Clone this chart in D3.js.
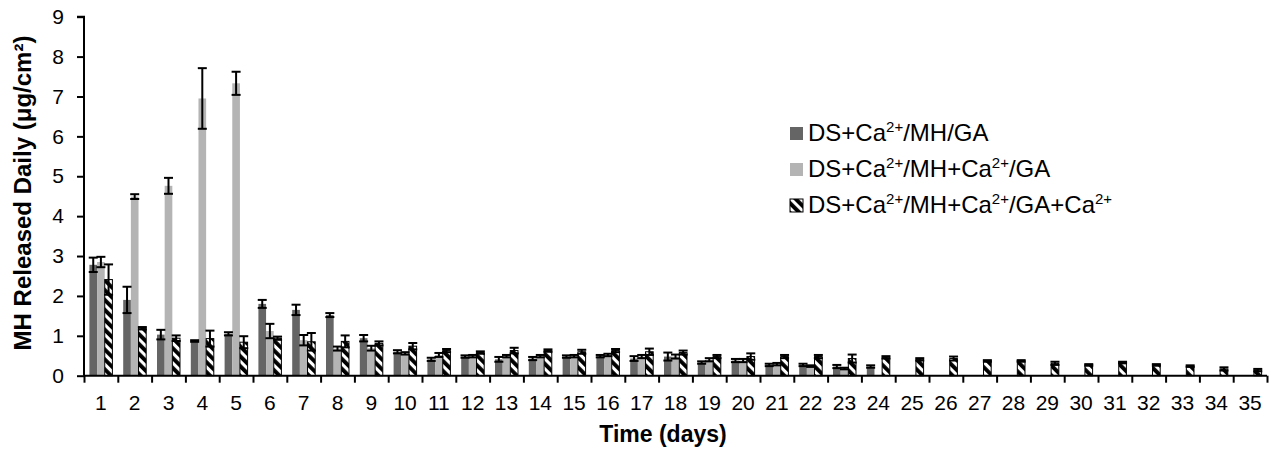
<!DOCTYPE html>
<html><head><meta charset="utf-8">
<script src="https://cdn.jsdelivr.net/npm/d3@7"></script>
<style>
html,body{margin:0;padding:0;background:#fff;}
svg{display:block;font-family:"Liberation Sans",Arial,sans-serif;}
</style></head>
<body>
<svg id="chart" width="1271" height="450"></svg>
<script>
const days = d3.range(1, 36).map(String);
const yTicks = [0,1,2,3,4,5,6,7,8,9];
const seriesNames = ["A","B","C"];

const valsA = [2.78,1.9,1.03,0.87,1.05,1.8,1.65,1.52,0.94,0.6,0.41,0.48,0.41,0.43,0.48,0.49,0.43,0.48,0.33,0.38,0.27,0.27,0.23,0.23,null,null,null,null,null,null,null,null,null,null,null];
const errA  = [0.18,0.33,0.12,0.02,0.04,0.1,0.13,0.05,0.08,0.04,0.04,0.03,0.06,0.04,0.03,0.03,0.06,0.1,0.03,0.04,0.03,0.03,0.04,0.03,null,null,null,null,null,null,null,null,null,null,null];
const valsB = [2.85,4.49,4.76,6.95,7.33,1.12,0.89,0.68,0.69,0.56,0.52,0.49,0.49,0.49,0.49,0.52,0.48,0.48,0.4,0.38,0.29,0.24,0.18,null,null,null,null,null,null,null,null,null,null,null,null];
const errB  = [0.13,0.06,0.2,0.76,0.29,0.18,0.13,0.05,0.06,0.03,0.05,0.03,0.03,0.03,0.03,0.03,0.04,0.05,0.04,0.04,0.03,0.02,0.02,null,null,null,null,null,null,null,null,null,null,null,null];
const valsC = [2.41,1.19,0.94,0.93,0.84,0.94,0.85,0.86,0.81,0.74,0.63,0.58,0.63,0.63,0.6,0.63,0.6,0.58,0.48,0.48,0.48,0.48,0.43,0.46,0.41,0.43,0.37,0.37,0.31,0.27,0.33,0.27,0.24,0.17,0.14];
const errC  = [0.38,0.03,0.07,0.2,0.15,0.04,0.22,0.15,0.05,0.08,0.04,0.03,0.07,0.03,0.05,0.04,0.08,0.05,0.04,0.08,0.04,0.04,0.1,0.03,0.03,0.05,0.02,0.02,0.04,0.02,0.02,0.02,0.02,0.04,0.03];

const legendParts = [
  [["DS+Ca",0],["2+",1],["/MH/GA",0]],
  [["DS+Ca",0],["2+",1],["/MH+Ca",0],["2+",1],["/GA",0]],
  [["DS+Ca",0],["2+",1],["/MH+Ca",0],["2+",1],["/GA+Ca",0],["2+",1]]
];

const svg = d3.select("#chart");
const X0 = 84, X1 = 1267, Y0 = 375.7, Y1 = 16.7;

const defs = svg.append("defs");
const pat = defs.append("pattern").attr("id","hatch")
  .attr("patternUnits","userSpaceOnUse").attr("width",7).attr("height",7)
  .attr("patternTransform","rotate(-45)");
pat.append("rect").attr("width",7).attr("height",7).attr("fill","#fff");
pat.append("rect").attr("x",0).attr("width",3.9).attr("height",7).attr("fill","#000");

const fills = {A:"#656565", B:"#b4b4b4", C:"url(#hatch)"};

const x = d3.scaleBand().domain(days).range([X0, X1]).paddingInner(0.32).paddingOuter(0.16);
const xs = d3.scaleBand().domain(seriesNames).range([0, x.bandwidth()]);
const y = d3.scaleLinear().domain([0, 9]).range([Y0, Y1]);

const series = [
  {key:"A", vals:valsA, errs:errA},
  {key:"B", vals:valsB, errs:errB},
  {key:"C", vals:valsC, errs:errC}
];

const rows = [];
series.forEach(s => days.forEach((d,i) => {
  if (s.vals[i] != null) rows.push({key:s.key, day:d, v:s.vals[i], e:s.errs[i]});
}));

const gBars = svg.append("g");
gBars.selectAll("rect").data(rows).join("rect")
  .attr("x", d => x(d.day) + xs(d.key))
  .attr("y", d => y(d.v))
  .attr("width", xs.bandwidth())
  .attr("height", d => y(0) - y(d.v))
  .attr("fill", d => fills[d.key])
  .attr("stroke", d => d.key === "C" ? "#000" : "none")
  .attr("stroke-width", 1);

// axes
const yAxis = d3.axisLeft(y).tickValues(yTicks).tickSize(7).tickPadding(13).tickFormat(d3.format("d"));
const gy = svg.append("g").attr("transform", `translate(${X0},0)`).call(yAxis);
gy.select(".domain").attr("stroke","#000").attr("stroke-width",2).attr("d", `M-7,${Y1}H0V${Y0}`);
gy.selectAll(".tick line").attr("stroke","#000").attr("stroke-width",2);
gy.selectAll(".tick text").attr("font-size",21).attr("fill","#000").attr("font-family","Liberation Sans, Arial, sans-serif");

const xb = d3.scaleLinear().domain([0, 35]).range([X0, X1]);
const gxb = svg.append("g").attr("transform", `translate(0,${Y0})`)
  .call(d3.axisBottom(xb).tickValues(d3.range(0,36)).tickSize(7).tickFormat(""));
gxb.select(".domain").attr("stroke","#000").attr("stroke-width",2).attr("d", `M${X0},0H${X1}`);
gxb.selectAll(".tick line").attr("stroke","#000").attr("stroke-width",2);

const gx = svg.append("g").attr("transform", `translate(0,${Y0})`)
  .call(d3.axisBottom(x).tickSize(0).tickPadding(19));
gx.select(".domain").remove();
gx.selectAll(".tick text").attr("font-size",21).attr("fill","#000").attr("font-family","Liberation Sans, Arial, sans-serif");

// error bars
const gErr = svg.append("g").attr("stroke","#000").attr("stroke-width",2);
rows.forEach(d => {
  const cx = x(d.day) + xs(d.key) + xs.bandwidth()/2;
  const yt = y(d.v + d.e), yb = y(d.v - d.e);
  gErr.append("line").attr("x1",cx).attr("x2",cx).attr("y1",yt).attr("y2",yb);
  gErr.append("line").attr("x1",cx-4.5).attr("x2",cx+4.5).attr("y1",yt).attr("y2",yt);
  gErr.append("line").attr("x1",cx-4.5).attr("x2",cx+4.5).attr("y1",yb).attr("y2",yb);
});

// titles
svg.append("text").attr("x", 663).attr("y", 442).attr("text-anchor","middle")
  .attr("font-size",23).attr("font-weight","bold").attr("fill","#000").text("Time (days)");
svg.append("text").attr("transform", `translate(31,193) rotate(-90)`).attr("text-anchor","middle")
  .attr("font-size",24).attr("font-weight","bold").attr("fill","#000").text("MH Released Daily (μg/cm²)");

// legend
const lg = svg.append("g");
const legY = [141, 177, 213];
legendParts.forEach((parts, i) => {
  const k = seriesNames[i];
  lg.append("rect").attr("x",790).attr("y",legY[i]-14).attr("width",13).attr("height",13)
    .attr("fill", fills[k]).attr("stroke", k === "C" ? "#000" : "none").attr("stroke-width",1);
  const t = lg.append("text").attr("x",808).attr("y",legY[i]).attr("font-size",24).attr("fill","#000");
  let raised = false;
  parts.forEach(([str, sup]) => {
    const ts = t.append("tspan").text(str);
    if (sup) { ts.attr("font-size",15).attr("dy",-9); raised = true; }
    else if (raised) { ts.attr("dy",9); raised = false; }
  });
});
</script>
</body></html>
